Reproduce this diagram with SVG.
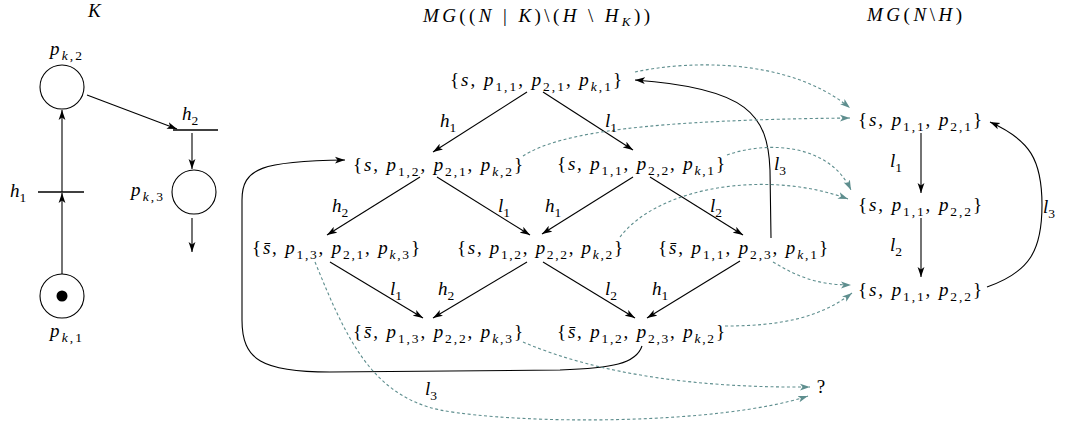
<svg xmlns="http://www.w3.org/2000/svg" width="1072" height="428" viewBox="0 0 1072 428">
<style>
text{font-family:'Liberation Serif','DejaVu Serif','Times New Roman',serif;font-size:19px;fill:#000}
.i{font-style:italic}
.s{font-size:13.5px}
.tt{font-size:19px}
.ts{font-size:13px}
.e{fill:none;stroke:#000;stroke-width:1.1}
.d{fill:none;stroke:#5e8e8e;stroke-width:1.1;stroke-dasharray:3 2.5}
.pl{fill:#fff;stroke:#000;stroke-width:1.1}
.tr{stroke:#000;stroke-width:1.3}
</style>
<defs>
<marker id="a" markerUnits="userSpaceOnUse" markerWidth="11" markerHeight="8" refX="10" refY="4" orient="auto"><path d="M0,0.6 L10,4 L0,7.4 L2.5,4 z" fill="#000"/></marker>
<marker id="ad" markerUnits="userSpaceOnUse" markerWidth="11" markerHeight="8" refX="10" refY="4" orient="auto"><path d="M0,0.6 L10,4 L0,7.4 L2.5,4 z" fill="#5e8e8e"/></marker>
</defs>
<rect width="1072" height="428" fill="#fff"/>

<g id="titles">
<text class="i tt" x="88" y="17">K</text>
<text class="tt" x="423" y="22" textLength="227" lengthAdjust="spacing"><tspan class="i">MG</tspan>((<tspan class="i">N</tspan> | <tspan class="i">K</tspan>)\(<tspan class="i">H</tspan> \ <tspan class="i">H</tspan><tspan class="ts i" dy="4">K</tspan><tspan dy="-4">))</tspan></text>
<text class="tt" x="867" y="21" textLength="95" lengthAdjust="spacing"><tspan class="i">MG</tspan>(<tspan class="i">N</tspan>\<tspan class="i">H</tspan>)</text>
</g>

<g id="petri-net">
<g id="pk2"><circle class="pl" cx="62" cy="87" r="22"/><text x="50" y="55" textLength="32" lengthAdjust="spacing"><tspan class="i">p</tspan><tspan class="s" dy="4.5"><tspan class="i">k</tspan>,2</tspan></text></g>
<g id="pk1"><circle class="pl" cx="62" cy="296" r="22"/><circle cx="62" cy="296" r="5.5" fill="#000"/><text x="50" y="337" textLength="32" lengthAdjust="spacing"><tspan class="i">p</tspan><tspan class="s" dy="4.5"><tspan class="i">k</tspan>,1</tspan></text></g>
<g id="pk3"><circle class="pl" cx="194" cy="192" r="22"/><text x="131" y="196" textLength="32" lengthAdjust="spacing"><tspan class="i">p</tspan><tspan class="s" dy="4.5"><tspan class="i">k</tspan>,3</tspan></text></g>
<g id="th1"><line class="tr" x1="38" y1="192" x2="84" y2="192"/><text x="10" y="197"><tspan class="i">h</tspan><tspan class="s" dy="4.5">1</tspan></text></g>
<g id="th2"><line class="tr" x1="173" y1="130" x2="218" y2="130"/><text x="182" y="120"><tspan class="i">h</tspan><tspan class="s" dy="4.5">2</tspan></text></g>
</g>

<g id="connectors">
<line class="e" x1="62" y1="274" x2="62" y2="193" marker-end="url(#a)"/>
<line class="e" x1="62" y1="192" x2="62" y2="110" marker-end="url(#a)"/>
<line class="e" x1="87" y1="95" x2="177" y2="129" marker-end="url(#a)"/>
<line class="e" x1="192" y1="133" x2="192" y2="169" marker-end="url(#a)"/>
<line class="e" x1="192" y1="218" x2="192" y2="252" marker-end="url(#a)"/>

<line class="e" x1="527" y1="92" x2="433" y2="152" marker-end="url(#a)"/>
<line class="e" x1="543" y1="92" x2="633" y2="150" marker-end="url(#a)"/>
<line class="e" x1="420" y1="177" x2="327" y2="235" marker-end="url(#a)"/>
<line class="e" x1="437" y1="177" x2="530" y2="235" marker-end="url(#a)"/>
<line class="e" x1="633" y1="177" x2="542" y2="234" marker-end="url(#a)"/>
<line class="e" x1="650" y1="177" x2="743" y2="235" marker-end="url(#a)"/>
<line class="e" x1="330" y1="262" x2="423" y2="318" marker-end="url(#a)"/>
<line class="e" x1="527" y1="262" x2="433" y2="318" marker-end="url(#a)"/>
<line class="e" x1="543" y1="262" x2="635" y2="318" marker-end="url(#a)"/>
<line class="e" x1="740" y1="261" x2="647" y2="318" marker-end="url(#a)"/>

<path class="e" d="M771,238 L770,170 C768,115 748,88 635,80" marker-end="url(#a)"/>
<path class="e" d="M642,346 C636,364 612,368 560,370 L330,372 C262,372 242,360 242,320 L242,200 C242,168 262,161 345,160" marker-end="url(#a)"/>

<line class="e" x1="921" y1="133" x2="921" y2="193" marker-end="url(#a)"/>
<line class="e" x1="921" y1="218" x2="921" y2="277" marker-end="url(#a)"/>
<path class="e" d="M987,287 C1030,272 1042,250 1042,205 C1042,160 1030,140 990,122" marker-end="url(#a)"/>

<path class="d" d="M635,72 C690,60 790,58 850,108" marker-end="url(#ad)"/>
<path class="d" d="M523,156 C560,132 650,120 850,118" marker-end="url(#ad)"/>
<path class="d" d="M727,155 C770,140 830,145 851,190" marker-end="url(#ad)"/>
<path class="d" d="M620,237 C660,185 770,170 848,199" marker-end="url(#ad)"/>
<path class="d" d="M773,262 C795,275 815,285 851,285" marker-end="url(#ad)"/>
<path class="d" d="M725,326 C780,326 820,318 852,293" marker-end="url(#ad)"/>
<path class="d" d="M523,342 C600,375 700,388 810,387" marker-end="url(#ad)"/>
<path class="d" d="M315,262 C345,335 370,395 440,410 C520,425 720,425 808,396" marker-end="url(#ad)"/>

<g id="edge-labels">
<text x="440" y="127"><tspan class="i">h</tspan><tspan class="s" dy="4.5">1</tspan></text>
<text x="605" y="127"><tspan class="i">l</tspan><tspan class="s" dy="4.5">1</tspan></text>
<text x="332" y="212"><tspan class="i">h</tspan><tspan class="s" dy="4.5">2</tspan></text>
<text x="498" y="212"><tspan class="i">l</tspan><tspan class="s" dy="4.5">1</tspan></text>
<text x="545" y="212"><tspan class="i">h</tspan><tspan class="s" dy="4.5">1</tspan></text>
<text x="710" y="212"><tspan class="i">l</tspan><tspan class="s" dy="4.5">2</tspan></text>
<text x="774" y="170"><tspan class="i">l</tspan><tspan class="s" dy="4.5">3</tspan></text>
<text x="390" y="295"><tspan class="i">l</tspan><tspan class="s" dy="4.5">1</tspan></text>
<text x="438" y="295"><tspan class="i">h</tspan><tspan class="s" dy="4.5">2</tspan></text>
<text x="605" y="295"><tspan class="i">l</tspan><tspan class="s" dy="4.5">2</tspan></text>
<text x="652" y="295"><tspan class="i">h</tspan><tspan class="s" dy="4.5">1</tspan></text>
<text x="425" y="395"><tspan class="i">l</tspan><tspan class="s" dy="4.5">3</tspan></text>
<text x="890" y="167"><tspan class="i">l</tspan><tspan class="s" dy="4.5">1</tspan></text>
<text x="890" y="251"><tspan class="i">l</tspan><tspan class="s" dy="4.5">2</tspan></text>
<text x="1043" y="213"><tspan class="i">l</tspan><tspan class="s" dy="4.5">3</tspan></text>
</g>
</g>

<g id="n1"><text x="536" y="86" text-anchor="middle" textLength="172" lengthAdjust="spacing">{<tspan class="i">s</tspan>, <tspan class="i">p</tspan><tspan class="s" dy="4.5">1,1</tspan><tspan dy="-4.5">, </tspan><tspan class="i">p</tspan><tspan class="s" dy="4.5">2,1</tspan><tspan dy="-4.5">, </tspan><tspan class="i">p</tspan><tspan class="s" dy="4.5"><tspan class="i">k</tspan>,1</tspan><tspan dy="-4.5">}</tspan></text></g>
<g id="n2"><text x="438" y="171" text-anchor="middle" textLength="170" lengthAdjust="spacing">{<tspan class="i">s</tspan>, <tspan class="i">p</tspan><tspan class="s" dy="4.5">1,2</tspan><tspan dy="-4.5">, </tspan><tspan class="i">p</tspan><tspan class="s" dy="4.5">2,1</tspan><tspan dy="-4.5">, </tspan><tspan class="i">p</tspan><tspan class="s" dy="4.5"><tspan class="i">k</tspan>,2</tspan><tspan dy="-4.5">}</tspan></text></g>
<g id="n3"><text x="641" y="170" text-anchor="middle" textLength="168" lengthAdjust="spacing">{<tspan class="i">s</tspan>, <tspan class="i">p</tspan><tspan class="s" dy="4.5">1,1</tspan><tspan dy="-4.5">, </tspan><tspan class="i">p</tspan><tspan class="s" dy="4.5">2,2</tspan><tspan dy="-4.5">, </tspan><tspan class="i">p</tspan><tspan class="s" dy="4.5"><tspan class="i">k</tspan>,1</tspan><tspan dy="-4.5">}</tspan></text></g>
<g id="n4"><text x="336" y="254" text-anchor="middle" textLength="168" lengthAdjust="spacing">{<tspan class="i">s̄</tspan>, <tspan class="i">p</tspan><tspan class="s" dy="4.5">1,3</tspan><tspan dy="-4.5">, </tspan><tspan class="i">p</tspan><tspan class="s" dy="4.5">2,1</tspan><tspan dy="-4.5">, </tspan><tspan class="i">p</tspan><tspan class="s" dy="4.5"><tspan class="i">k</tspan>,3</tspan><tspan dy="-4.5">}</tspan></text></g>
<g id="n5"><text x="540" y="254" text-anchor="middle" textLength="166" lengthAdjust="spacing">{<tspan class="i">s</tspan>, <tspan class="i">p</tspan><tspan class="s" dy="4.5">1,2</tspan><tspan dy="-4.5">, </tspan><tspan class="i">p</tspan><tspan class="s" dy="4.5">2,2</tspan><tspan dy="-4.5">, </tspan><tspan class="i">p</tspan><tspan class="s" dy="4.5"><tspan class="i">k</tspan>,2</tspan><tspan dy="-4.5">}</tspan></text></g>
<g id="n6"><text x="743" y="254" text-anchor="middle" textLength="170" lengthAdjust="spacing">{<tspan class="i">s̄</tspan>, <tspan class="i">p</tspan><tspan class="s" dy="4.5">1,1</tspan><tspan dy="-4.5">, </tspan><tspan class="i">p</tspan><tspan class="s" dy="4.5">2,3</tspan><tspan dy="-4.5">, </tspan><tspan class="i">p</tspan><tspan class="s" dy="4.5"><tspan class="i">k</tspan>,1</tspan><tspan dy="-4.5">}</tspan></text></g>
<g id="n7"><text x="438" y="338" text-anchor="middle" textLength="170" lengthAdjust="spacing">{<tspan class="i">s̄</tspan>, <tspan class="i">p</tspan><tspan class="s" dy="4.5">1,3</tspan><tspan dy="-4.5">, </tspan><tspan class="i">p</tspan><tspan class="s" dy="4.5">2,2</tspan><tspan dy="-4.5">, </tspan><tspan class="i">p</tspan><tspan class="s" dy="4.5"><tspan class="i">k</tspan>,3</tspan><tspan dy="-4.5">}</tspan></text></g>
<g id="n8"><text x="641" y="338" text-anchor="middle" textLength="168" lengthAdjust="spacing">{<tspan class="i">s̄</tspan>, <tspan class="i">p</tspan><tspan class="s" dy="4.5">1,2</tspan><tspan dy="-4.5">, </tspan><tspan class="i">p</tspan><tspan class="s" dy="4.5">2,3</tspan><tspan dy="-4.5">, </tspan><tspan class="i">p</tspan><tspan class="s" dy="4.5"><tspan class="i">k</tspan>,2</tspan><tspan dy="-4.5">}</tspan></text></g>
<g id="r1"><text x="920" y="126" text-anchor="middle" textLength="124" lengthAdjust="spacing">{<tspan class="i">s</tspan>, <tspan class="i">p</tspan><tspan class="s" dy="4.5">1,1</tspan><tspan dy="-4.5">, </tspan><tspan class="i">p</tspan><tspan class="s" dy="4.5">2,1</tspan><tspan dy="-4.5">}</tspan></text></g>
<g id="r2"><text x="920" y="211" text-anchor="middle" textLength="124" lengthAdjust="spacing">{<tspan class="i">s</tspan>, <tspan class="i">p</tspan><tspan class="s" dy="4.5">1,1</tspan><tspan dy="-4.5">, </tspan><tspan class="i">p</tspan><tspan class="s" dy="4.5">2,2</tspan><tspan dy="-4.5">}</tspan></text></g>
<g id="r3"><text x="920" y="296" text-anchor="middle" textLength="124" lengthAdjust="spacing">{<tspan class="i">s</tspan>, <tspan class="i">p</tspan><tspan class="s" dy="4.5">1,1</tspan><tspan dy="-4.5">, </tspan><tspan class="i">p</tspan><tspan class="s" dy="4.5">2,2</tspan><tspan dy="-4.5">}</tspan></text></g>
<g id="unknown"><text x="821" y="393" text-anchor="middle">?</text></g>
</svg>
